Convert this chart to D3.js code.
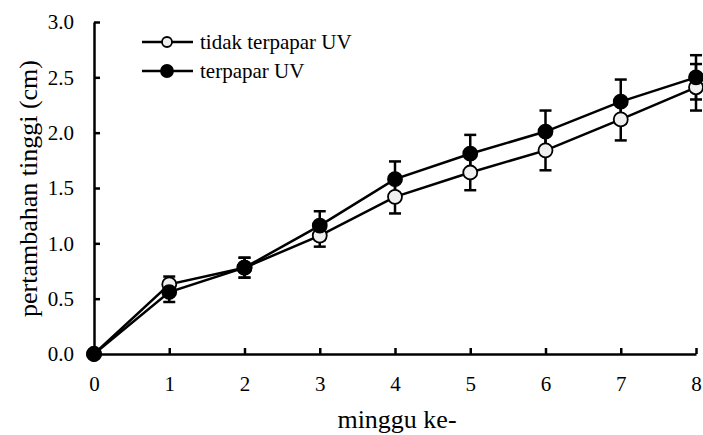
<!DOCTYPE html>
<html><head><meta charset="utf-8">
<script src="https://cdn.jsdelivr.net/npm/d3@7"></script>
<style>
body{margin:0;background:#fff}
svg{display:block}
</style>
</head><body><svg id="c" width="703" height="435"></svg>
<script>
const weeks = [0,1,2,3,4,5,6,7,8];
const seriesNames = ["tidak terpapar UV","terpapar UV"];
const tidakValues = [0,0.63,0.78,1.07,1.42,1.64,1.84,2.12,2.41];
const tidakErr    = [0,0.07,0.09,0.10,0.15,0.16,0.18,0.19,0.21];
const terpaparValues = [0,0.56,0.78,1.16,1.58,1.81,2.01,2.28,2.50];
const terpaparErr    = [0,0.09,0.09,0.13,0.16,0.17,0.19,0.20,0.20];
const yTicks = [0,0.5,1.0,1.5,2.0,2.5,3.0];
const xLabel = "minggu ke-";
const yLabel = "pertambahan tinggi (cm)";

const FONT = "Liberation Serif, Times New Roman, serif";
const svg = d3.select("#c");
const x = d3.scaleLinear().domain([0,8]).range([94,696]);
const y = d3.scaleLinear().domain([0,3]).range([354,22]);

const series = [
  {name:seriesNames[0], v:tidakValues, e:tidakErr, fill:"#f0f0f0"},
  {name:seriesNames[1], v:terpaparValues, e:terpaparErr, fill:"#000"}
];

// axes
const yAxis = d3.axisLeft(y).tickValues(yTicks).tickFormat(d3.format(".1f")).tickSizeInner(-6).tickSizeOuter(0).tickPadding(20);
const gy = svg.append("g").attr("transform","translate(94,0)").call(yAxis);
const xAxis = d3.axisBottom(x).tickValues(weeks).tickFormat(d3.format("d")).tickSizeInner(-6).tickSizeOuter(0).tickPadding(22);
const gx = svg.append("g").attr("transform","translate(0,354)").call(xAxis);
[gx,gy].forEach(g=>{
  g.attr("font-family",FONT).attr("font-size",21);
  g.select(".domain").attr("stroke","#000").attr("stroke-width",2.5);
  g.selectAll(".tick line").attr("stroke","#000").attr("stroke-width",2.5);
  g.selectAll(".tick text").attr("font-family",FONT).attr("font-size",21).attr("fill","#000");
});

// lines
const line = d3.line().x((d,i)=>x(weeks[i])).y(d=>y(d));
series.forEach(s=>{
  svg.append("path").attr("d",line(s.v)).attr("fill","none").attr("stroke","#000").attr("stroke-width",2.5);
});
// error bars
series.forEach(s=>{
  const g = svg.append("g").attr("stroke","#000").attr("stroke-width",2.5);
  weeks.forEach((w,i)=>{
    if(!s.e[i]) return;
    const cx = x(w), y1 = y(s.v[i]-s.e[i]), y2 = y(s.v[i]+s.e[i]);
    g.append("line").attr("x1",cx).attr("x2",cx).attr("y1",y1).attr("y2",y2);
    g.append("line").attr("x1",cx-6).attr("x2",cx+6).attr("y1",y1).attr("y2",y1);
    g.append("line").attr("x1",cx-6).attr("x2",cx+6).attr("y1",y2).attr("y2",y2);
  });
});
// markers
series.forEach(s=>{
  svg.append("g").selectAll("circle").data(s.v).join("circle")
    .attr("cx",(d,i)=>x(weeks[i])).attr("cy",d=>y(d)).attr("r",7)
    .attr("fill",s.fill).attr("stroke","#000").attr("stroke-width",1.8);
});

// legend
series.forEach((s,i)=>{
  const ly = 42 + i*29;
  svg.append("line").attr("x1",142).attr("x2",193).attr("y1",ly).attr("y2",ly).attr("stroke","#000").attr("stroke-width",2.5);
  svg.append("circle").attr("cx",167).attr("cy",ly).attr("r",i===0?5:6).attr("fill",s.fill).attr("stroke","#000").attr("stroke-width",1.8);
  svg.append("text").attr("x",200).attr("y",ly).attr("dy","0.33em").attr("font-family",FONT).attr("font-size",21).attr("fill","#000").text(s.name);
});

// axis titles
svg.append("text").attr("x",397).attr("y",428).attr("text-anchor","middle").attr("font-family",FONT).attr("font-size",26).attr("fill","#000").text(xLabel);
svg.append("text").attr("transform","translate(37,188.5) rotate(-90)").attr("text-anchor","middle").attr("font-family",FONT).attr("font-size",26).attr("fill","#000").text(yLabel);
</script></body></html>
